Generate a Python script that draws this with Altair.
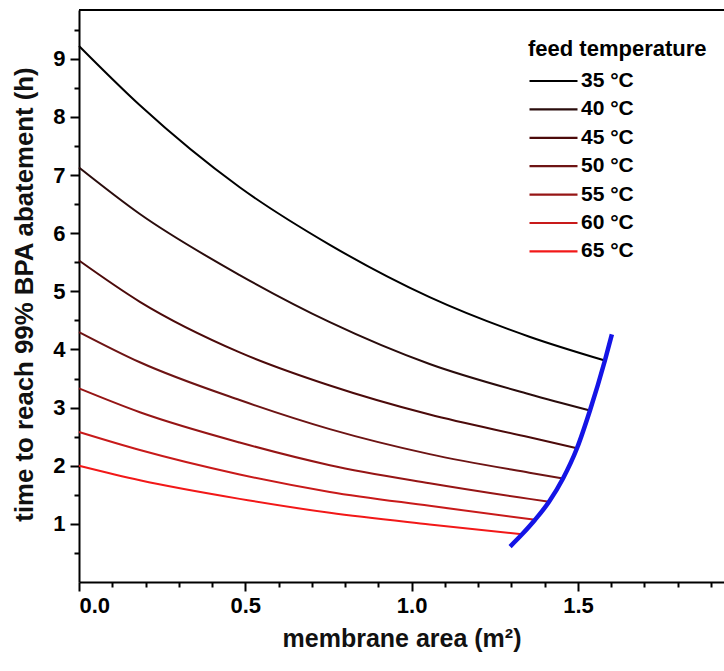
import altair as alt
import pandas as pd

# Feed temperatures and the matching line colours (black -> red)
temps = ["35 °C", "40 °C", "45 °C", "50 °C", "55 °C", "60 °C", "65 °C"]
colors = ["#000000", "#2a0c0c", "#4c0a0a", "#6e1414", "#961515", "#c81a1a", "#f21818"]

# Membrane area (m2) and time to reach 99 % BPA abatement (h) for each temperature
area_35 = [0.0, 0.183, 0.483, 0.754, 1.054, 1.354, 1.581]
time_35 = [9.22, 8.20, 6.79, 5.80, 4.90, 4.22, 3.81]
area_40 = [0.0, 0.183, 0.483, 0.754, 1.054, 1.354, 1.536]
time_40 = [7.13, 6.33, 5.28, 4.47, 3.75, 3.23, 2.95]
area_45 = [0.0, 0.183, 0.483, 0.754, 1.054, 1.354, 1.497]
time_45 = [5.53, 4.82, 3.95, 3.38, 2.88, 2.49, 2.30]
area_50 = [0.0, 0.183, 0.483, 0.754, 1.054, 1.354, 1.455]
time_50 = [4.30, 3.78, 3.13, 2.63, 2.20, 1.88, 1.78]
area_55 = [0.0, 0.183, 0.483, 0.754, 1.054, 1.354, 1.413]
time_55 = [3.33, 2.92, 2.40, 2.01, 1.70, 1.43, 1.38]
area_60 = [0.0, 0.183, 0.483, 0.754, 1.054, 1.371]
time_60 = [2.58, 2.27, 1.85, 1.55, 1.31, 1.07]
area_65 = [0.0, 0.183, 0.483, 0.754, 1.054, 1.332]
time_65 = [2.00, 1.75, 1.43, 1.19, 0.99, 0.82]

# Limiting curve joining the end points (blue)
limit_area = [1.296, 1.332, 1.371, 1.413, 1.455, 1.497, 1.536, 1.581, 1.602]
limit_time = [0.61, 0.82, 1.07, 1.38, 1.78, 2.30, 2.95, 3.81, 4.26]

# Axis tick positions (major + minor)
x_ticks = [round(i * 0.1, 1) for i in range(20)]
y_ticks = [i * 0.5 for i in range(1, 20)]

areas = [area_35, area_40, area_45, area_50, area_55, area_60, area_65]
times = [time_35, time_40, time_45, time_50, time_55, time_60, time_65]
rows = []
for label, xs, ys in zip(temps, areas, times):
    for a, t in zip(xs, ys):
        rows.append({"feed": label, "area": a, "time": t})
curves = pd.DataFrame(rows)
limit = pd.DataFrame({"area": limit_area, "time": limit_time})

FONT = "Liberation Sans"
W, H = 645, 572

x_scale = alt.Scale(domain=[0, 1.939], nice=False, zero=False)
y_scale = alt.Scale(domain=[0, 9.84], nice=False, zero=False)

x_major = "abs(datum.value * 2 - round(datum.value * 2)) < 0.001"
x_axis = alt.Axis(
    values=x_ticks,
    tickCount=50,
    labelExpr=x_major + " ? format(datum.value, '.1f') : ''",
    labelOverlap=False,
    tickSize={"condition": {"test": x_major, "value": 9}, "value": 5},
    title="membrane area (m²)",
    titleFontSize=25,
    titlePadding=10,
    labelPadding=4,
)
y_major = "abs(datum.value - round(datum.value)) < 0.001"
y_axis = alt.Axis(
    values=y_ticks,
    tickCount=50,
    labelExpr=y_major + " ? format(datum.value, 'd') : ''",
    labelOverlap=False,
    tickSize={"condition": {"test": y_major, "value": 9}, "value": 5},
    title="time to reach 99% BPA abatement (h)",
    titleFontSize=25.8,
    titleX=-47,
    titleY=284,
    titleAlign="center",
    titleBaseline="alphabetic",
    labelPadding=5,
)

lines = alt.Chart(curves).mark_line(strokeWidth=2, interpolate="monotone").encode(
    x=alt.X("area:Q", scale=x_scale, axis=x_axis),
    y=alt.Y("time:Q", scale=y_scale, axis=y_axis),
    color=alt.Color(
        "feed:N",
        scale=alt.Scale(domain=temps, range=colors),
        legend=alt.Legend(
            title="feed temperature",
            orient="none",
            legendX=449,
            legendY=29,
            symbolType="stroke",
            symbolSize=2304,
            symbolStrokeWidth=2.2,
            clipHeight=28,
            rowPadding=0.4,
            labelOffset=2,
            titlePadding=6,
            titleFontSize=22,
            titleFontWeight="bold",
            titleColor="black",
            labelFontSize=21,
            labelFontWeight="bold",
            labelColor="black",
            titleFont=FONT,
            labelFont=FONT,
        ),
    ),
)

boundary = alt.Chart(limit).mark_line(color="#1414e6", strokeWidth=4.5, interpolate="monotone").encode(
    x=alt.X("area:Q", scale=x_scale),
    y=alt.Y("time:Q", scale=y_scale),
    order=alt.Order("time:Q"),
)

top_edge = alt.Chart(limit).mark_rule(color="black", strokeWidth=2).encode(
    x=alt.value(0), x2=alt.value(W), y=alt.value(0)
)

chart = (
    alt.layer(lines, boundary, top_edge)
    .properties(
        width=W,
        height=H,
        autosize=alt.AutoSizeParams(type="none"),
        padding={"left": 79, "top": 10, "right": 0, "bottom": 89},
    )
    .configure(font=FONT)
    .configure_view(stroke=None)
    .configure_axis(
        grid=False,
        domainColor="black",
        domainWidth=2,
        tickColor="black",
        tickWidth=2,
        labelFont=FONT,
        labelFontSize=22,
        labelFontWeight="bold",
        labelColor="black",
        titleFont=FONT,
        titleFontWeight="bold",
        titleColor="#111111",
    )
)

chart.save("out.html", embed_options={"renderer": "svg", "actions": False})
